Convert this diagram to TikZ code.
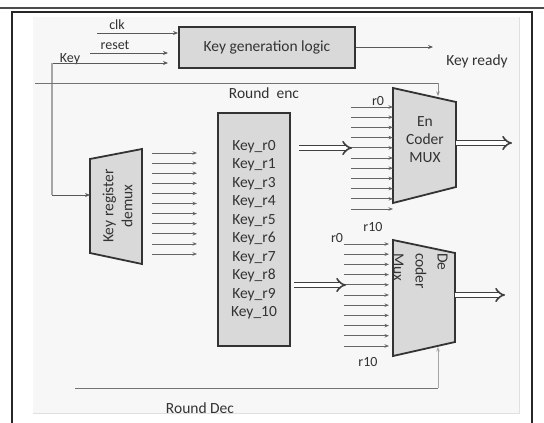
\documentclass[tikz,border=0pt]{standalone}
\usepackage{fontspec}
\setmainfont{Carlito}
\usetikzlibrary{arrows.meta}
\begin{document}
\begin{tikzpicture}[x=1pt,y=-1pt,
  sig/.style={draw=black!65, line width=0.9pt, -{Stealth[length=5pt,width=4pt]}},
  thin sig/.style={draw=black!60, line width=0.8pt, -{Stealth[length=4.5pt,width=3.5pt]}},
  fb/.style={draw=black!35, line width=1.1pt},
  blk/.style={draw=black!80, line width=1.8pt, fill=black!15},
  bus/.style={draw=black!75, double=white, double distance=3.2pt, line width=1.6pt, -{Implies[length=7pt]}},
  lbl/.style={font=\fontsize{15.5}{18}\selectfont, text=black!80, inner sep=0pt},
  small lbl/.style={lbl, font=\fontsize{14}{16}\selectfont},
]
\useasboundingbox (0,0) rectangle (544,423);

% page frame
\fill[white] (0,0) rectangle (544,423);
\draw[black!70, line width=1.2pt] (0,8) -- (544,8);
\fill[black!3] (33,17) rectangle (519,413);
\draw[black!12, line width=1pt] (519,17) -- (519,413) -- (33,413);
\draw[black!85, line width=1.8pt] (12,423) -- (12,12) -- (532,12) -- (532,423);

% key generation logic
\node[blk, lbl, minimum width=176pt, minimum height=41pt] (kg) at (267,47.5) {Key generation logic};
\node[small lbl] (clk) at (117,25) {clk};
\node[small lbl] (rst) at (115,45) {reset};
\node[small lbl] (key) at (70,59) {Key};
\node[lbl] (krdy) at (477,61) {Key ready};
\coordinate (clk-s) at (97,33);
\coordinate (rst-s) at (90,53);
\coordinate (key-s) at (52,63);
\coordinate (krdy-e) at (433,47);
\draw[sig] (clk-s) -- (clk-s -| kg.west);
\draw[sig] (rst-s) -- (168,53);
\draw[sig] (key-s) -- (168,63);
\draw[sig] (kg.east |- krdy-e) -- (krdy-e);

% key register demux
\coordinate (dm-nw) at (90,159);
\coordinate (dm-ne) at (142,149);
\coordinate (dm-se) at (142,264);
\coordinate (dm-sw) at (90,253);
\draw[blk] (dm-nw) -- (dm-ne) -- (dm-se) -- (dm-sw) -- cycle;
\node[lbl, rotate=90, align=center, font=\fontsize{15.5}{19}\selectfont] (dm) at (117.5,206) {Key register\\demux};
\coordinate (dm-in) at (90,195);
\draw[fb] (key-s) -- (52,195);
\draw[sig] (52,195) -- (dm-in);
\foreach \i in {0,...,10} {
  \draw[thin sig] (152,{153+10.1*\i}) -- (197,{153+10.1*\i});
}

% key register bank
\node[blk, lbl, align=center, font=\fontsize{15.5}{18.5}\selectfont,
      minimum width=72pt, minimum height=233pt] (kr) at (254,229.5)
  {Key\_r0\\Key\_r1\\Key\_r3\\Key\_r4\\Key\_r5\\Key\_r6\\Key\_r7\\Key\_r8\\Key\_r9\\Key\_10};

% encoder mux
\coordinate (en-nw) at (393,88);
\coordinate (en-ne) at (456,102);
\coordinate (en-se) at (456,187);
\coordinate (en-sw) at (393,203);
\draw[blk] (en-nw) -- (en-ne) -- (en-se) -- (en-sw) -- cycle;
\node[lbl, align=center, font=\fontsize{15.5}{18}\selectfont] (en) at (425,140) {En\\Coder\\MUX};
\foreach \i in {0,...,10} {
  \draw[thin sig] (351,{107+10.2*\i}) -- (393,{107+10.2*\i});
}
\node[small lbl] (en-r0) at (378,101) {r0};
\node[small lbl] (mid-r10) at (373,227) {r10};

% decoder mux
\coordinate (de-nw) at (393,240);
\coordinate (de-ne) at (455,253);
\coordinate (de-se) at (455,342);
\coordinate (de-sw) at (393,356);
\draw[blk] (de-nw) -- (de-ne) -- (de-se) -- (de-sw) -- cycle;
\node[lbl, rotate=-90, anchor=west, align=left, font=\fontsize{15.5}{22}\selectfont] (de) at (420.5,253) {De\\coder\\Mux};
\foreach \i in {0,...,10} {
  \draw[thin sig] (344,{244+10.2*\i}) -- (389,{244+10.2*\i});
}
\node[small lbl] (de-r0) at (337,238) {r0};
\node[small lbl] (de-r10) at (368,362) {r10};

% buses
\coordinate (en-out) at (512,143);
\coordinate (de-out) at (505,295);
\draw[bus] (299,148) -- (352,148);
\draw[bus] (294,285) -- (346,285);
\draw[bus] (456,143) -- (en-out);
\draw[bus] (455,295) -- (de-out);

% round control lines
\coordinate (enc-s) at (35,83);
\coordinate (dec-s) at (75,388);
\draw[black!55, line width=0.9pt] (enc-s) -- (438,83);
\draw[thin sig, draw=black!45] (438,83) -- (438,96);
\node[lbl] (renc) at (264,93) {Round\ \ enc};
\draw[black!55, line width=0.9pt] (dec-s) -- (438,388);
\draw[thin sig, draw=black!35] (438,388) -- (438,347);
\node[lbl] (rdec) at (200,408) {Round Dec};
\end{tikzpicture}
\end{document}
